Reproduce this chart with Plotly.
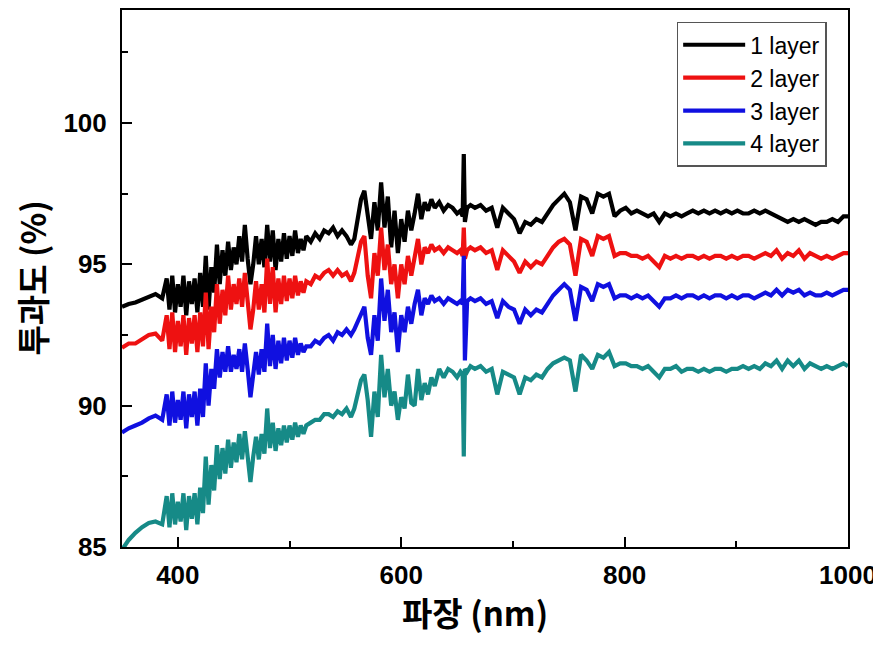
import plotly.graph_objects as go

wavelength = [
    350, 356, 362, 368, 374, 380, 386,
    390, 392.5, 395, 397.5, 400, 402.5, 405, 407.5, 410, 412.5, 415, 417.5, 420, 422.5,
    425, 427.5, 430, 432.5, 435, 437.5, 440, 442.5, 445, 447.5, 450, 452.5, 455, 457.5,
    460, 462.5, 465, 467.5, 470, 472.5, 475, 477.5, 480, 482.5, 485, 487.5, 490, 492.5,
    495, 497.5, 500, 502.5, 505, 507.5, 510, 512.5, 515,
    519, 523, 527, 531, 535, 539, 543, 547, 551, 555, 558,
    561, 564, 567, 570, 573, 576, 579, 582, 585, 588, 591, 594, 597, 600, 603, 606,
    609, 612, 615, 618, 621, 624, 627, 630, 634, 638, 642, 646, 650, 653, 655, 656,
    657, 659, 662,
    666, 671, 676, 681, 686, 691, 696, 701, 706, 711, 716, 721, 726, 731, 736, 741,
    746, 751, 756, 761, 766, 771, 776, 781, 786, 791, 796, 801, 806, 811, 816, 821,
    826, 831, 836, 841, 846, 851, 856, 861, 866, 871, 876, 881, 886, 891, 896, 901,
    906, 911, 916, 921, 926, 931, 936, 941, 946, 951, 956, 961, 966, 971, 976, 981,
    986, 991, 996, 1000,
]

layer1 = [
    93.50, 93.60, 93.65, 93.75, 93.85, 93.95, 93.80,
    94.5, 93.4, 94.6, 93.3, 94.3, 93.5, 94.6, 93.2, 94.4, 93.6, 94.5, 93.3, 94.7, 93.5,
    95.3, 93.4, 94.9, 94.0, 95.7, 94.3, 95.5, 94.6, 95.8, 94.8, 95.6, 95.0, 96.0, 95.1,
    96.4, 95.2, 94.3, 95.0, 96.0, 95.0, 95.9, 94.9, 96.4, 95.1, 96.2, 94.8, 95.9, 95.1,
    96.1, 95.2, 96.0, 95.3, 96.2, 95.4, 95.9, 95.5, 96.0,
    95.8, 96.1, 95.9, 96.2, 96.1, 96.3, 96.0, 96.2, 96.0, 95.7, 95.9,
    96.6, 97.3, 97.6, 96.8, 95.9, 97.2, 96.2, 97.9, 96.3, 97.4, 95.6, 96.9, 95.4, 96.6, 95.8, 96.9,
    96.2, 96.8, 97.5, 96.6, 97.2, 96.9, 97.3, 97.0, 97.2, 96.9, 97.1, 97.0, 96.8, 96.9, 96.7, 98.9,
    96.5, 97.0, 97.1,
    97.0, 97.1, 96.9, 97.0, 96.3, 97.0, 96.8, 96.6, 96.1, 96.5, 96.4, 96.6, 96.5, 96.8, 97.1, 97.3,
    97.5, 97.2, 96.2, 97.4, 97.3, 96.8, 97.5, 97.4, 97.5, 96.7, 96.9, 97.0, 96.8, 96.9, 96.8, 96.7,
    96.8, 96.5, 96.8, 96.7, 96.8, 96.7, 96.8, 96.9, 96.8, 96.9, 96.8, 96.9, 96.8, 96.9, 96.8, 96.9,
    96.8, 96.8, 96.9, 96.8, 96.9, 96.8, 96.7, 96.6, 96.5, 96.6, 96.5, 96.6, 96.5, 96.4, 96.5, 96.5,
    96.6, 96.5, 96.7, 96.7,
]

layer2 = [
    92.05, 92.20, 92.20, 92.35, 92.50, 92.55, 92.30,
    93.2, 92.0, 93.3, 91.9, 93.0, 92.1, 93.2, 91.8, 93.1, 92.2, 93.2, 91.9, 93.3, 92.1,
    94.0, 92.0, 93.5, 92.6, 94.3, 92.9, 94.1, 93.2, 94.6, 93.4, 94.3, 93.6, 94.5, 93.5,
    94.7, 93.6, 92.7, 93.4, 94.4, 93.4, 94.3, 93.3, 95.2, 93.6, 94.9, 93.3, 94.5, 93.6,
    94.6, 93.7, 94.5, 93.8, 94.6, 93.9, 94.4, 94.0, 94.4,
    94.3, 94.6, 94.5, 94.7, 94.8, 94.6, 94.8, 94.6, 94.7, 94.4, 94.7,
    95.2, 95.8, 96.0, 94.6, 93.8, 95.4, 94.6, 96.3, 94.8, 95.7, 94.3, 95.0, 93.8, 95.0, 94.3, 95.3,
    94.6, 95.3, 95.9, 95.0, 95.6, 95.4, 95.7, 95.5, 95.6, 95.4, 95.6, 95.5, 95.4, 95.5, 95.3, 96.3,
    95.2, 95.5, 95.6,
    95.5, 95.6, 95.4, 95.5, 94.8, 95.5, 95.3, 95.1, 94.7, 95.1, 94.9, 95.1, 95.0, 95.3, 95.6, 95.8,
    95.9, 95.7, 94.6, 95.9, 95.8, 95.3, 96.0, 95.9, 96.0, 95.3, 95.4, 95.4, 95.3, 95.3, 95.2, 95.3,
    95.1, 94.9, 95.3, 95.2, 95.3, 95.2, 95.3, 95.3, 95.2, 95.3, 95.2, 95.3, 95.3, 95.2, 95.3, 95.2,
    95.3, 95.3, 95.2, 95.3, 95.4, 95.3, 95.5, 95.2, 95.4, 95.3, 95.5, 95.2, 95.4, 95.3, 95.2, 95.3,
    95.2, 95.3, 95.4, 95.4,
]

layer3 = [
    89.05, 89.20, 89.30, 89.40, 89.55, 89.65, 89.50,
    90.4, 89.3, 90.5, 89.4, 90.2, 89.5, 90.5, 89.2, 90.4, 89.6, 90.5, 89.3, 90.6, 89.6,
    91.5, 90.0, 91.3, 90.6, 92.0, 91.0, 91.9, 91.2, 92.1, 91.2, 91.8, 91.3, 92.0, 91.2,
    92.2, 91.3, 90.3, 91.1, 91.9, 91.1, 92.0, 91.2, 92.9, 91.4, 92.5, 91.3, 92.3, 91.5,
    92.4, 91.6, 92.3, 91.7, 92.4, 91.8, 92.2, 91.9, 92.1,
    92.1, 92.3, 92.2, 92.4, 92.5, 92.3, 92.6, 92.5, 92.7, 92.5, 92.7,
    93.0, 93.3, 93.5, 92.4, 91.8, 93.2, 92.3, 94.5, 93.0, 94.1, 92.6, 93.3, 91.9, 93.2, 92.6, 93.5,
    92.9, 93.6, 94.1, 93.2, 93.8, 93.6, 93.9, 93.7, 93.8, 93.6, 93.8, 93.7, 93.6, 93.7, 93.6, 95.3,
    91.6, 93.7, 93.8,
    93.7, 93.8, 93.6, 93.7, 93.1, 93.7, 93.5, 93.4, 92.9, 93.4, 93.2, 93.4, 93.3, 93.6, 93.9, 94.1,
    94.3, 94.1, 93.0, 94.2, 94.1, 93.7, 94.3, 94.2, 94.3, 93.8, 93.9, 93.9, 93.8, 93.9, 93.8, 93.9,
    93.7, 93.5, 93.8, 93.8, 93.9, 93.8, 93.9, 93.9, 93.8, 93.9, 93.8, 93.9, 93.9, 93.8, 93.9, 93.8,
    93.9, 93.9, 93.8, 93.9, 94.0, 93.9, 94.1, 93.9, 94.1, 94.0, 94.1, 93.9, 94.0, 93.9, 93.9, 94.0,
    93.9, 94.0, 94.1, 94.1,
]

layer4 = [
    84.90, 85.25, 85.50, 85.70, 85.85, 85.90, 85.80,
    86.8, 85.7, 86.9, 85.8, 86.6, 85.9, 86.9, 85.6, 86.8, 86.0, 86.9, 85.8, 87.1, 86.2,
    88.2, 86.5, 87.9, 87.0, 88.6, 87.4, 88.5, 87.6, 88.8, 87.8, 88.7, 88.0, 89.0, 88.1,
    89.1, 88.2, 87.3, 88.2, 88.9, 88.1, 89.0, 88.3, 89.9, 88.5, 89.4, 88.4, 89.2, 88.6,
    89.3, 88.7, 89.3, 88.8, 89.4, 88.9, 89.3, 89.0, 89.3,
    89.4, 89.5, 89.5, 89.7, 89.7, 89.6, 89.8, 89.7, 89.9, 89.6, 89.9,
    90.4, 90.9, 91.1, 90.2, 88.9, 90.5, 89.6, 91.8, 90.3, 91.3, 90.0, 90.5, 89.5, 90.3, 89.9, 91.1,
    90.1, 90.0, 91.3, 90.2, 90.8, 90.4, 91.0, 90.7, 91.3, 91.0, 91.3, 91.2, 91.0, 91.2, 91.1, 88.2,
    91.3, 91.2, 91.4,
    91.3, 91.4, 91.2, 91.3, 90.4, 91.2, 91.1, 91.0, 90.4, 91.0, 90.9, 91.1, 91.0, 91.3, 91.5, 91.6,
    91.7, 91.6, 90.5, 91.8, 91.6, 91.3, 91.8, 91.7, 91.9, 91.4, 91.5, 91.5, 91.4, 91.4, 91.3, 91.4,
    91.2, 91.0, 91.3, 91.3, 91.4, 91.2, 91.3, 91.3, 91.2, 91.3, 91.2, 91.3, 91.3, 91.2, 91.3, 91.3,
    91.4, 91.3, 91.4, 91.3, 91.5, 91.4, 91.6, 91.3, 91.6, 91.4, 91.6, 91.3, 91.5, 91.4, 91.3, 91.4,
    91.3, 91.4, 91.5, 91.4,
]

series_names = ["1 layer", "2 layer", "3 layer", "4 layer"]
series_values = [layer1, layer2, layer3, layer4]
series_colors = ["#000000", "#ee1111", "#1010e0", "#168a87"]

x_title = "파장 (nm)"
y_title = "투과도 (%)"

fig = go.Figure()
for name, vals, col in zip(series_names, series_values, series_colors):
    fig.add_trace(go.Scatter(x=wavelength, y=vals, mode="lines", name=name,
                             line=dict(color=col, width=4.2)))

tick_font = dict(family="Liberation Sans, Arial, sans-serif", size=26, color="black", weight="bold")
title_font = dict(family="Noto Sans CJK KR, sans-serif", size=33, color="black", weight="bold")

# the page body has an 8px margin, so the figure is sized/margined to compensate
fig.update_layout(
    width=873, height=630,
    margin=dict(l=114, r=33, t=2, b=91, autoexpand=False),
    paper_bgcolor="white", plot_bgcolor="white",
    showlegend=True,
    legend=dict(
        x=0.764, y=0.978, xanchor="left", yanchor="top",
        bgcolor="white", bordercolor="#555555", borderwidth=1.5,
        font=dict(family="Liberation Sans, Arial, sans-serif", size=23, color="black"),
        itemwidth=62, tracegroupgap=0,
    ),
    annotations=[
        dict(text=x_title, xref="paper", yref="paper", x=0.486, y=-0.121,
             xanchor="center", yanchor="middle", showarrow=False, font=title_font),
        dict(text=y_title, xref="paper", yref="paper", x=-0.1253, y=0.5, textangle=-90,
             xanchor="center", yanchor="middle", showarrow=False, font=title_font),
    ],
)
fig.update_xaxes(
    range=[350, 1000], tick0=400, dtick=200, automargin=False,
    showline=True, linecolor="black", linewidth=2, mirror=True,
    ticks="inside", ticklen=10, tickwidth=2, tickcolor="black",
    minor=dict(ticks="inside", dtick=100, tick0=400, ticklen=6, tickwidth=2, tickcolor="black"),
    showgrid=False, zeroline=False,
    tickfont=tick_font, ticklabelstandoff=4,
)
fig.update_yaxes(
    range=[85, 104], tick0=85, dtick=5, automargin=False,
    showline=True, linecolor="black", linewidth=2, mirror=True,
    ticks="inside", ticklen=10, tickwidth=2, tickcolor="black",
    minor=dict(ticks="inside", dtick=2.5, tick0=85, ticklen=6, tickwidth=2, tickcolor="black"),
    showgrid=False, zeroline=False,
    tickfont=tick_font, ticklabelstandoff=8,
)

fig.write_html("out.html")
